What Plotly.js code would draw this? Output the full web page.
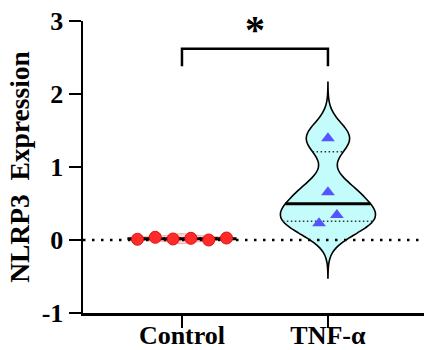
<!DOCTYPE html>
<html><head><meta charset="utf-8">
<script src="https://cdn.plot.ly/plotly-3.0.1.min.js"></script>
<style>html,body{margin:0;padding:0;background:#fff}#chart{width:424px;height:350px}</style>
</head><body><div id="chart"></div>
<script>
// ---- data ----
const groups = ['Control', 'TNF-\u03b1'];
const controlValues = [0.010, 0.037, 0.014, 0.023, 0.000, 0.027];
const tnfValues = [1.393, 0.653, 0.229, 0.342];
const yTicks = [-1, 0, 1, 2, 3];
const yTickLabels = ['-1', '0', '1', '2', '3'];
const sigLabel = '*';
const yTitle = 'NLRP3  Expression';

// ---- style / layout constants ----
const FONT = 'Liberation Serif, Times New Roman, serif';
const XMIN = -0.678, XMAX = 1.658;
const SPACING = 0.122;     // horizontal spacing of points in a row (x units)
const ROW_TOL = 0.15;      // values closer than this share a row
const BR_LOW = 2.38, BR_HIGH = 2.62, STAR_Y = 2.88;

function swarmX(vals, center) {
  const idx = vals.map((v, i) => i).sort((a, b) => vals[a] - vals[b]);
  const rows = [];
  let cur = [idx[0]];
  for (let k = 1; k < idx.length; k++) {
    if (vals[idx[k]] - vals[cur[cur.length - 1]] < ROW_TOL) cur.push(idx[k]);
    else { rows.push(cur); cur = [idx[k]]; }
  }
  rows.push(cur);
  const xs = new Array(vals.length);
  rows.forEach(r => {
    r.sort((a, b) => a - b);
    r.forEach((i, k) => { xs[i] = center + (k - (r.length - 1) / 2) * SPACING; });
  });
  return xs;
}
function kde(vals, bw) {
  const n = vals.length, c = 1 / (Math.sqrt(2 * Math.PI) * n * bw);
  return t => vals.reduce((s, v) => { const u = (t - v) / bw; return s + Math.exp(-u * u / 2); }, 0) * c;
}
function maxKde(f, span, bw) {
  const dist = span[1] - span[0];
  const n = Math.ceil(dist / (bw / 3)), step = dist / n;
  let m = 0;
  for (let t = span[0]; t < span[1] + step / 2; t += step) m = Math.max(m, f(t));
  return m;
}
function quantile(vals, p) {
  const s = vals.slice().sort((a, b) => a - b), n = s.length;
  const pos = (n + 1) * p, lo = Math.floor(pos), fr = pos - lo;
  if (lo < 1) return s[0];
  if (lo >= n) return s[n - 1];
  return s[lo - 1] + fr * (s[lo] - s[lo - 1]);
}

const violins = [
  {vals: controlValues, pos: 0, bw: 0.025, width: 0.74, span: null, fill: '#ffd6d6', line: '#ffa8a8', lw: 1},
  {vals: tnfValues, pos: 1, bw: 0.21, width: 0.65, span: [-0.52, 2.16], fill: '#c4fbfb', line: '#000000', lw: 1.6}
];

const traces = [];
violins.forEach((g, i) => {
  const tr = {
    type: 'violin', x0: g.pos, y: g.vals, name: groups[i], orientation: 'v',
    bandwidth: g.bw, width: g.width, scalemode: 'width', side: 'both',
    points: false, box: {visible: false}, meanline: {visible: false},
    fillcolor: g.fill, line: {color: g.line, width: g.lw}, hoverinfo: 'skip', showlegend: false
  };
  if (g.span) { tr.spanmode = 'manual'; tr.span = g.span; }
  traces.push(tr);
});

// zero reference line
traces.push({type: 'scatter', mode: 'lines', x: [XMIN, XMAX], y: [0, 0],
  line: {color: '#000', width: 2.5, dash: '2.5px,6.5px'}, hoverinfo: 'skip', showlegend: false});

// median & quartile lines
violins.forEach(g => {
  const f = kde(g.vals, g.bw);
  const span = g.span || [Math.min(...g.vals) - 2 * g.bw, Math.max(...g.vals) + 2 * g.bw];
  const mk = maxKde(f, span, g.bw);
  [[0.25, false], [0.75, false], [0.5, true]].forEach(([p, isMed]) => {
    const q = quantile(g.vals, p);
    const hw = g.width / 2 * f(q) / mk;
    traces.push({type: 'scatter', mode: 'lines', x: [g.pos - hw, g.pos + hw], y: [q, q],
      line: isMed ? {color: '#000', width: 3} : {color: '#333', width: 1.5, dash: '1.5px,2.5px'},
      hoverinfo: 'skip', showlegend: false});
  });
});

// points
traces.push({type: 'scatter', mode: 'markers', x: swarmX(controlValues, 0), y: controlValues,
  marker: {symbol: 'circle', size: 12, color: '#ff2b2b', line: {color: '#e01010', width: 1}},
  hoverinfo: 'y', showlegend: false});
traces.push({type: 'scatter', mode: 'markers', x: swarmX(tnfValues, 1), y: tnfValues,
  marker: {symbol: 'triangle-up', size: 12, color: '#5555ff', line: {width: 0}},
  hoverinfo: 'y', showlegend: false});

// significance bracket
traces.push({type: 'scatter', mode: 'lines', x: [0, 0, 1, 1], y: [BR_LOW, BR_HIGH, BR_HIGH, BR_LOW],
  line: {color: '#000', width: 2.5}, hoverinfo: 'skip', showlegend: false, cliponaxis: false});

const tickFont = {family: FONT, size: 26, color: '#000', weight: 'bold'};
const layout = {
  width: 424, height: 350,
  margin: {l: 83, r: 0, t: 21, b: 37},
  paper_bgcolor: '#fff', plot_bgcolor: '#fff',
  showlegend: false,
  xaxis: {range: [XMIN, XMAX], tickvals: [0, 1], ticktext: groups, showgrid: false, zeroline: false,
    showline: true, linecolor: '#000', linewidth: 2.5, ticks: 'outside', ticklen: 12, tickwidth: 2.5,
    tickcolor: '#000', tickfont: tickFont, ticklabelstandoff: -15, fixedrange: true},
  yaxis: {range: [-1, 3], tickvals: yTicks, ticktext: yTickLabels, showgrid: false, zeroline: false,
    showline: true, linecolor: '#000', linewidth: 2.5, ticks: 'outside', ticklen: 12, tickwidth: 2.5,
    tickcolor: '#000', tickfont: {family: FONT, size: 26, color: '#000', weight: 'bold'}, fixedrange: true,
    title: {text: yTitle, standoff: 4, font: {family: FONT, size: 27.5, color: '#000', weight: 'bold'}}},
  annotations: [{x: 0.5, y: STAR_Y, xref: 'x', yref: 'y', text: sigLabel, showarrow: false,
    font: {family: FONT, size: 40, color: '#000', weight: 'bold'}, yanchor: 'middle'}]
};
Plotly.newPlot('chart', traces, layout, {displayModeBar: false, staticPlot: true});
</script>
</body></html>
